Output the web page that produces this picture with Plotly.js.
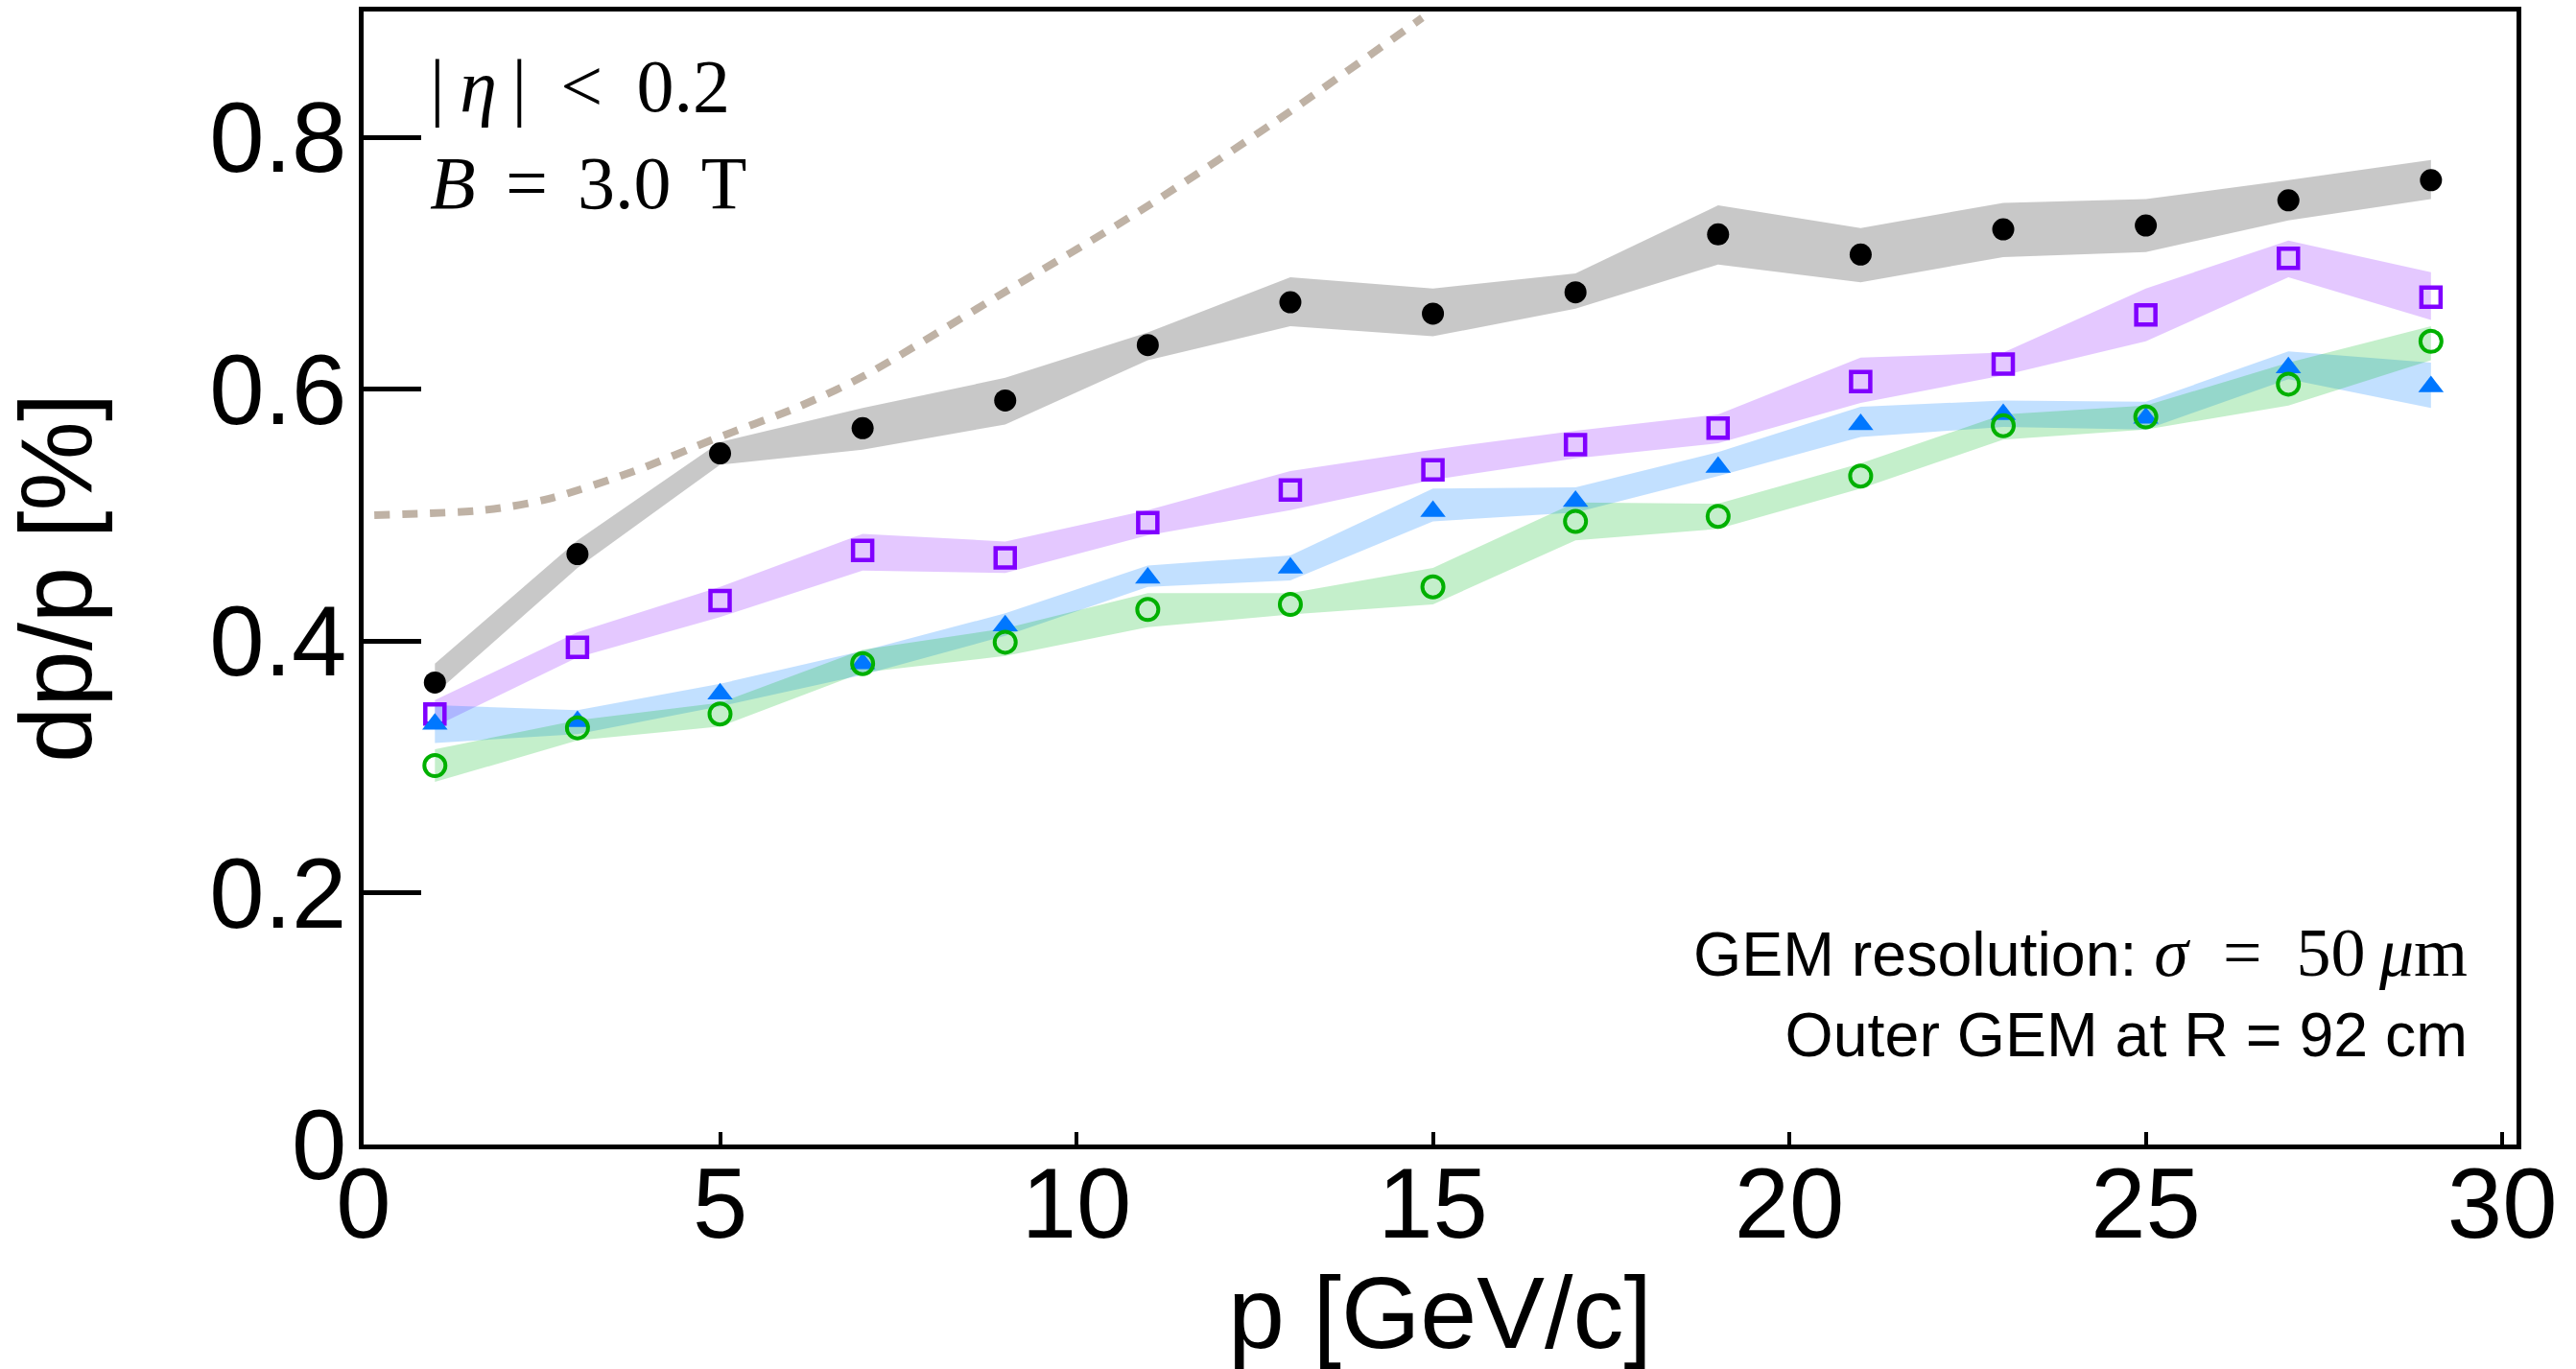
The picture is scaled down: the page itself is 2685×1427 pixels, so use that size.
<!DOCTYPE html>
<html>
<head>
<meta charset="utf-8">
<script src="https://cdn.plot.ly/plotly-3.0.1.min.js"></script>
<style>
  html, body { margin: 0; padding: 0; background: #ffffff; }
  #chart { width: 2685px; height: 1427px; }
</style>
</head>
<body>
<div id="chart"></div>
<script>
// ---- data ----
const momentum = [1, 3, 5, 7, 9, 11, 13, 15, 17, 19, 21, 23, 25, 27, 29];

const blackVal = [0.367, 0.469, 0.549, 0.569, 0.591, 0.635, 0.669, 0.660, 0.677, 0.723, 0.707, 0.727, 0.730, 0.750, 0.766];
const blackHi  = [0.382, 0.480, 0.558, 0.585, 0.609, 0.645, 0.689, 0.680, 0.692, 0.746, 0.728, 0.748, 0.751, 0.766, 0.782];
const blackLo  = [0.358, 0.458, 0.540, 0.552, 0.572, 0.623, 0.650, 0.642, 0.664, 0.699, 0.685, 0.705, 0.709, 0.734, 0.751];

const purpleVal = [0.342, 0.395, 0.432, 0.472, 0.466, 0.494, 0.520, 0.536, 0.556, 0.569, 0.606, 0.620, 0.659, 0.704, 0.673];
const purpleHi  = [0.353, 0.407, 0.443, 0.485, 0.479, 0.504, 0.535, 0.552, 0.567, 0.580, 0.625, 0.629, 0.680, 0.718, 0.693];
const purpleLo  = [0.332, 0.387, 0.419, 0.456, 0.454, 0.484, 0.504, 0.528, 0.545, 0.557, 0.589, 0.611, 0.638, 0.689, 0.655];

const blueVal = [0.334, 0.336, 0.358, 0.382, 0.412, 0.450, 0.458, 0.503, 0.511, 0.538, 0.572, 0.580, 0.577, 0.617, 0.602];
const blueHi  = [0.349, 0.345, 0.366, 0.392, 0.422, 0.460, 0.468, 0.521, 0.522, 0.550, 0.586, 0.591, 0.590, 0.630, 0.621];
const blueLo  = [0.319, 0.326, 0.348, 0.373, 0.404, 0.443, 0.448, 0.495, 0.502, 0.531, 0.562, 0.570, 0.568, 0.608, 0.585];

const greenVal = [0.301, 0.331, 0.342, 0.382, 0.399, 0.425, 0.429, 0.443, 0.495, 0.499, 0.531, 0.571, 0.578, 0.604, 0.638];
const greenHi  = [0.314, 0.337, 0.351, 0.393, 0.410, 0.438, 0.438, 0.458, 0.510, 0.509, 0.541, 0.580, 0.587, 0.621, 0.650];
const greenLo  = [0.288, 0.321, 0.332, 0.375, 0.388, 0.411, 0.421, 0.429, 0.480, 0.489, 0.521, 0.560, 0.568, 0.587, 0.623];

// dashed reference curve
const curveP = [0.15, 1.7, 2.6, 3.8, 4.9, 6.1, 7.0, 8.9, 10.9, 12.8, 14.85];
const curveV = [0.500, 0.504, 0.513, 0.535, 0.560, 0.586, 0.610, 0.674, 0.742, 0.813, 0.895];

// axes
const xTickVals = [0, 5, 10, 15, 20, 25, 30];
const xLongTicks = [5, 30];
const yTickVals = [0, 0.2, 0.4, 0.6, 0.8];
const yTickText = ['0', '0.2', '0.4', '0.6', '0.8'];

// ---- build traces ----
function band(hi, lo, fill) {
  return {
    x: momentum.concat(momentum.slice().reverse()),
    y: hi.concat(lo.slice().reverse()),
    type: 'scatter', mode: 'lines', fill: 'toself',
    fillcolor: fill, line: { width: 0, color: 'rgba(0,0,0,0)' },
    hoverinfo: 'skip', showlegend: false
  };
}
function points(vals, marker) {
  return { x: momentum, y: vals, type: 'scatter', mode: 'markers', marker: marker, showlegend: false };
}

const traces = [
  band(blackHi, blackLo, 'rgba(0,0,0,0.216)'),
  band(purpleHi, purpleLo, 'rgba(128,0,255,0.215)'),
  band(blueHi, blueLo, 'rgba(0,126,255,0.24)'),
  band(greenHi, greenLo, 'rgba(0,185,31,0.23)'),
  { x: curveP, y: curveV, type: 'scatter', mode: 'lines',
    line: { color: '#bfb2a5', width: 8, dash: '16px,13px', shape: 'spline', smoothing: 0.8 },
    showlegend: false, hoverinfo: 'skip' },
  points(blackVal, { symbol: 'circle', size: 23, color: '#000000' }),
  points(purpleVal, { symbol: 'square-open', size: 20, color: '#8000ff', line: { width: 4.5, color: '#8000ff' } }),
  points(blueVal, { symbol: 'triangle-up', size: 23, color: '#0077ff' }),
  points(greenVal, { symbol: 'circle-open', size: 22, color: '#00b000', line: { width: 4, color: '#00b000' } })
];

const SANS = '"Liberation Sans", Arial, Helvetica, sans-serif';
const SERIF = '"Liberation Serif", "Times New Roman", serif';

const layout = {
  width: 2685, height: 1427,
  margin: { l: 379, r: 62, t: 12, b: 234, pad: 0 },
  paper_bgcolor: '#ffffff', plot_bgcolor: '#ffffff',
  showlegend: false,
  font: { family: SANS, color: '#000000' },
  xaxis: {
    range: [0, 30.2], tickvals: xTickVals, ticktext: xTickVals.map(String),
    ticks: 'inside', ticklen: 13, tickwidth: 4, tickcolor: '#000',
    showline: true, mirror: true, linewidth: 5, linecolor: '#000',
    showgrid: false, zeroline: false,
    tickfont: { family: SANS, size: 103, color: '#000' },
    ticklabelstandoff: -32,
    title: { text: 'p [GeV/c]', font: { family: SANS, size: 106, color: '#000' }, standoff: 52 }
  },
  xaxis2: {
    range: [0, 30.2], overlaying: 'x', anchor: 'y', side: 'bottom',
    tickvals: xLongTicks, ticks: 'inside', ticklen: 38, tickwidth: 3, tickcolor: '#000',
    showticklabels: false, showline: false, showgrid: false, zeroline: false
  },
  yaxis: {
    range: [0, 0.9], tickvals: yTickVals, ticktext: yTickText,
    ticks: 'inside', ticklen: 60, tickwidth: 5, tickcolor: '#000',
    showline: true, mirror: true, linewidth: 5, linecolor: '#000',
    showgrid: false, zeroline: false,
    tickfont: { family: SANS, size: 103, color: '#000' },
    ticklabelstandoff: -8,
    title: { text: 'dp/p [%]', font: { family: SANS, size: 105, color: '#000' }, standoff: 100 }
  },
  annotations: [
    {
      xref: 'paper', yref: 'paper', x: 0.030, y: 0.973, xanchor: 'left', yanchor: 'top',
      align: 'left', showarrow: false,
      font: { family: SERIF, size: 78, color: '#000' },
      text: '|\u2009<i>η</i>\u2009|\u2009 <\u2009 0.2<br><i>B</i>\u2009\u2009=\u2009\u20093.0\u2009\u2009T'
    },
    {
      xref: 'paper', yref: 'paper', x: 0.978, y: 0.064, xanchor: 'right', yanchor: 'bottom',
      align: 'right', showarrow: false,
      font: { family: SANS, size: 64.5, color: '#000' },
      text: 'GEM resolution: <span style="font-family:\'Liberation Serif\',serif;font-size:72px"><i>σ</i>\u2002=\u200250\u2009<i>μ</i>m</span><br>Outer GEM at R = 92 cm'
    }
  ]
};

Plotly.newPlot('chart', traces, layout, { staticPlot: true, displayModeBar: false });
</script>
</body>
</html>
